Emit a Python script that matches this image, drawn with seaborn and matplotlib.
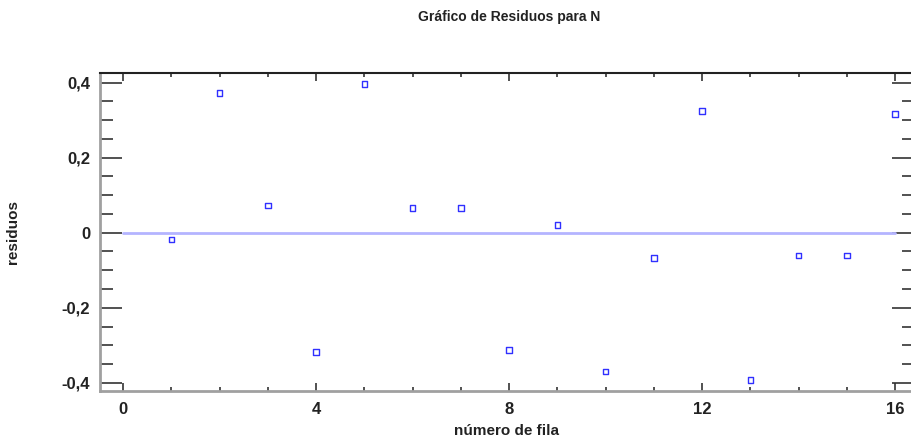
import numpy as np
import pandas as pd
import matplotlib
matplotlib.use("Agg")
import matplotlib.pyplot as plt
from matplotlib.ticker import MultipleLocator, FuncFormatter
import seaborn as sns

# Residuals by row number
fila = [1, 2, 3, 4, 5, 6, 7, 8, 9, 10, 11, 12, 13, 14, 15, 16]
residuos = [-0.018, 0.373, 0.073, -0.318, 0.397, 0.066, 0.066, -0.312,
            0.021, -0.370, -0.067, 0.324, -0.393, -0.061, -0.061, 0.317]

df = pd.DataFrame({"fila": fila, "residuos": residuos})

sns.set_style("white")
plt.rcParams["font.family"] = ["Liberation Sans", "DejaVu Sans"]

fig = plt.figure(figsize=(9.12, 4.40), dpi=100)
ax = fig.add_axes([100 / 912, 49 / 440, 814 / 912, 318 / 440])

# zero reference line
ax.plot([0, 16], [0, 0], color="#b4b4ff", lw=2, zorder=1)

sns.scatterplot(data=df, x="fila", y="residuos", ax=ax, marker="s", s=16,
                facecolor="none", edgecolor="#3030ff", linewidth=1.0, zorder=3)

ax.set_xlim(-0.48, 16.39)
ax.set_ylim(-0.422, 0.426)

ax.xaxis.set_major_locator(MultipleLocator(4))
ax.xaxis.set_minor_locator(MultipleLocator(1))
ax.yaxis.set_major_locator(MultipleLocator(0.2))
ax.yaxis.set_minor_locator(MultipleLocator(0.05))

fmt = FuncFormatter(lambda v, p: "0" if abs(v) < 1e-9 else f"{v:.1f}".replace(".", ","))
ax.yaxis.set_major_formatter(fmt)

ax.tick_params(which="both", direction="in", top=True, right=True, bottom=True, left=True,
               color="#333333", width=1.2)
ax.tick_params(axis="y", which="major", length=16, pad=7)
ax.tick_params(axis="y", which="minor", length=9)
ax.tick_params(axis="x", which="major", length=6, pad=8)
ax.tick_params(axis="x", which="minor", length=3)
ax.tick_params(which="major", labelsize=12)
for lab in ax.get_xticklabels() + ax.get_yticklabels():
    lab.set_fontweight("bold")
    lab.set_color("#222222")

for side in ["left", "bottom"]:
    ax.spines[side].set_color("#a0a0a0")
    ax.spines[side].set_linewidth(2)
ax.spines["top"].set_color("#222222")
ax.spines["top"].set_linewidth(1.5)
ax.spines["right"].set_color("#222222")
ax.spines["right"].set_linewidth(1.5)

ax.set_xlabel("número de fila", fontsize=11, fontweight="bold", color="#222222", labelpad=5)
ax.set_ylabel("residuos", fontsize=11, fontweight="bold", color="#222222", labelpad=30)
fig.text(509 / 912, 1 - 17 / 440, "Gráfico de Residuos para N", ha="center", va="center",
         fontsize=10, fontweight="bold", color="#222222")

fig.savefig("out.png", dpi=100, facecolor="white")
